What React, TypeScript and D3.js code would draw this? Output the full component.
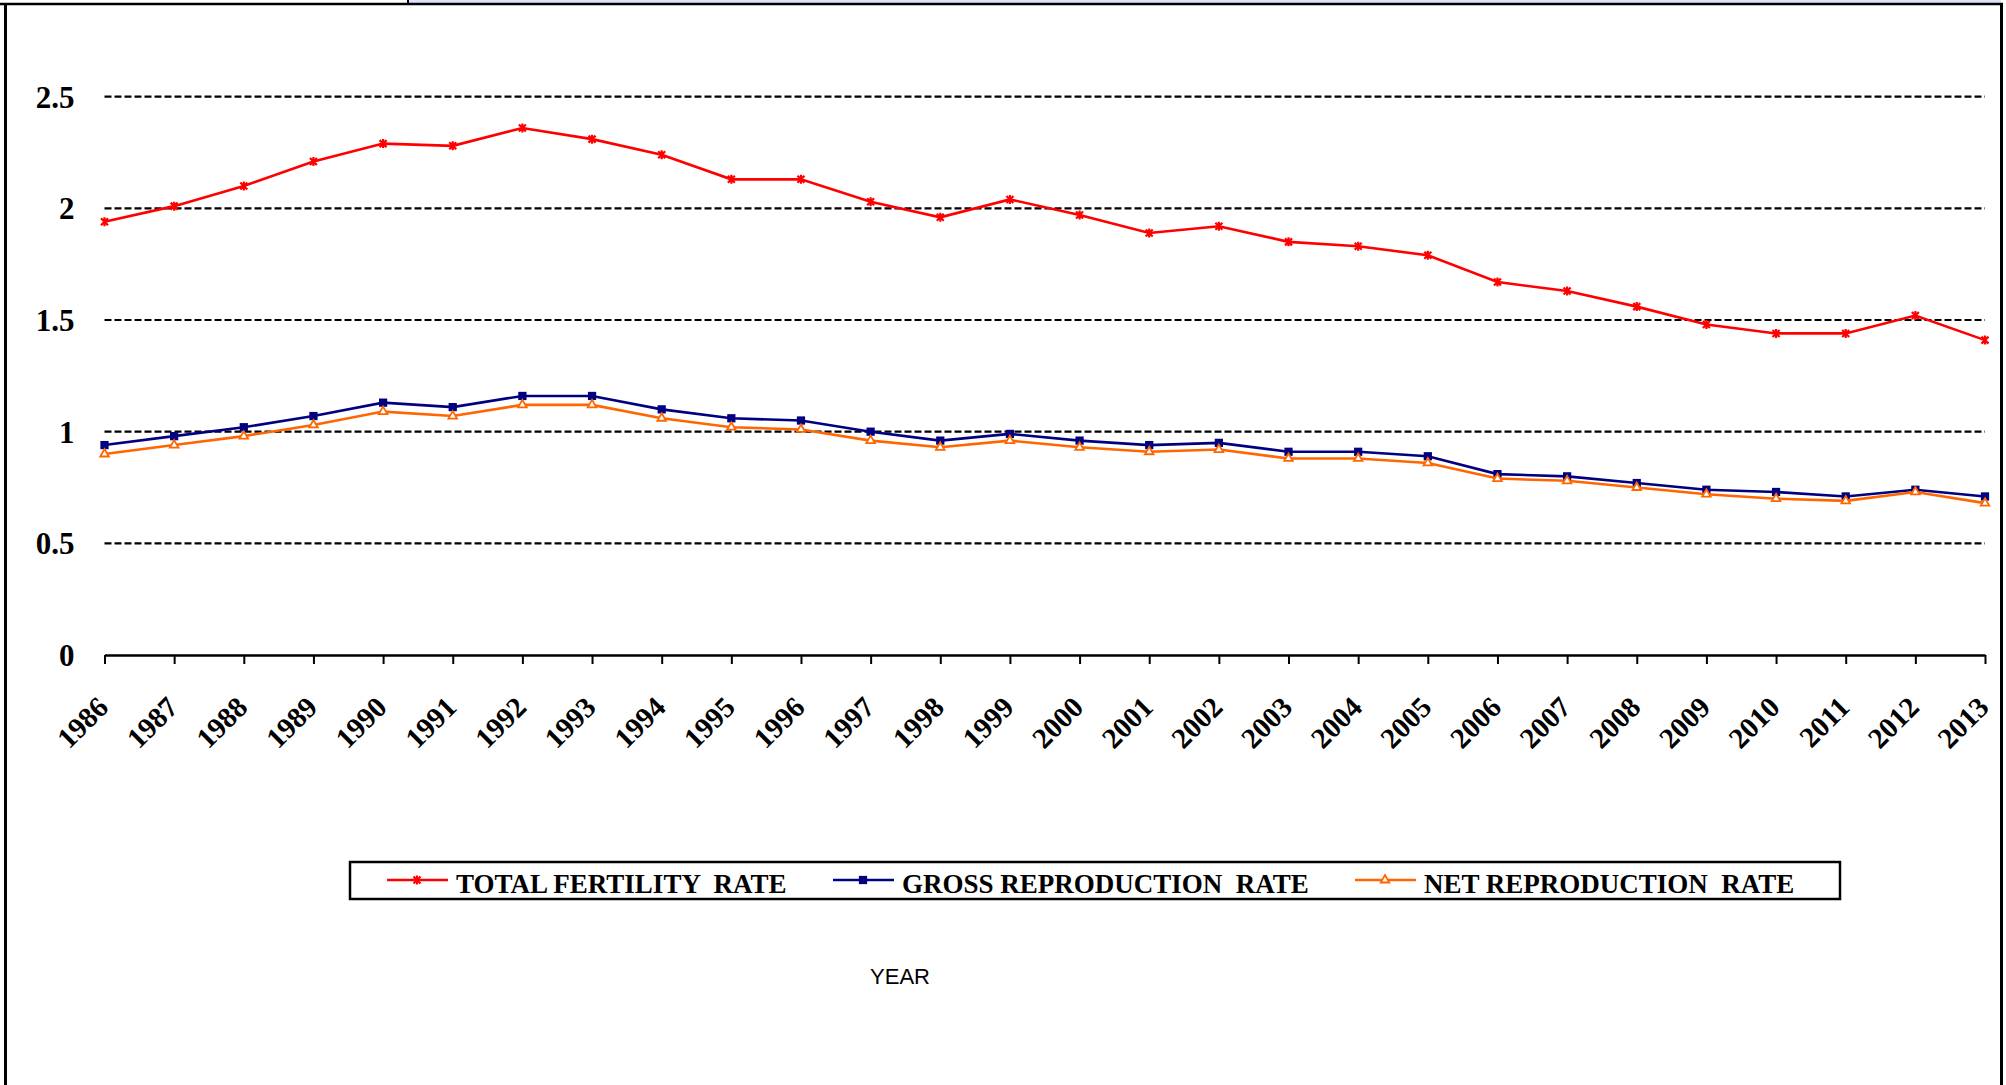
import React, { useEffect, useRef } from 'react';
import * as d3 from 'd3';

const years = [
  '1986', '1987', '1988', '1989', '1990', '1991', '1992', '1993', '1994', '1995',
  '1996', '1997', '1998', '1999', '2000', '2001', '2002', '2003', '2004', '2005',
  '2006', '2007', '2008', '2009', '2010', '2011', '2012', '2013',
];

const totalFertility = [
  1.94, 2.01, 2.1, 2.21, 2.29, 2.28, 2.36, 2.31, 2.24, 2.13,
  2.13, 2.03, 1.96, 2.04, 1.97, 1.89, 1.92, 1.85, 1.83, 1.79,
  1.67, 1.63, 1.56, 1.48, 1.44, 1.44, 1.52, 1.41,
];

const grossReproduction = [
  0.94, 0.98, 1.02, 1.07, 1.13, 1.11, 1.16, 1.16, 1.1, 1.06,
  1.05, 1.0, 0.96, 0.99, 0.96, 0.94, 0.95, 0.91, 0.91, 0.89,
  0.81, 0.8, 0.77, 0.74, 0.73, 0.71, 0.74, 0.71,
];

const netReproduction = [
  0.9, 0.94, 0.98, 1.03, 1.09, 1.07, 1.12, 1.12, 1.06, 1.02,
  1.01, 0.96, 0.93, 0.96, 0.93, 0.91, 0.92, 0.88, 0.88, 0.86,
  0.79, 0.78, 0.75, 0.72, 0.7, 0.69, 0.73, 0.68,
];

const yTicks = [0, 0.5, 1, 1.5, 2, 2.5];
const seriesNames = ['TOTAL FERTILITY  RATE', 'GROSS REPRODUCTION  RATE', 'NET REPRODUCTION  RATE'];
const seriesColors = ['#ff0000', '#000080', '#ff6600'];

const SERIF = '"Liberation Serif", "Times New Roman", serif';

// draws one marker of a series kind into a selection
function addMarker(g: any, kind: number, color: string) {
  if (kind === 0) {
    // star (asterisk) marker
    g.append('path')
      .attr('d', 'M-3.5,-3.5L3.5,3.5M-3.5,3.5L3.5,-3.5M0,-4.5L0,4.5')
      .attr('stroke', color)
      .attr('stroke-width', 2.2)
      .attr('fill', 'none');
  } else if (kind === 1) {
    g.append('path')
      .attr('d', d3.symbol().type(d3.symbolSquare).size(68)())
      .attr('fill', color);
  } else {
    g.append('path')
      .attr('d', d3.symbol().type(d3.symbolTriangle).size(32)())
      .attr('fill', '#fff')
      .attr('stroke', color)
      .attr('stroke-width', 1.8);
  }
}

export default function App() {
  const svgRef = useRef(null);

  useEffect(() => {
    const svg = d3.select(svgRef.current);
    svg.selectAll('*').remove();

    // frame bits (top of a cropped sheet)
    svg.append('rect').attr('x', 409).attr('y', 0).attr('width', 1592).attr('height', 3).attr('fill', '#dfe2fb');
    svg.append('line').attr('x1', 0).attr('x2', 2003).attr('y1', 4).attr('y2', 4).attr('stroke', '#000').attr('stroke-width', 2.5);
    svg.append('line').attr('x1', 408).attr('x2', 408).attr('y1', 0).attr('y2', 4).attr('stroke', '#000').attr('stroke-width', 2);
    svg.append('line').attr('x1', 5.5).attr('x2', 5.5).attr('y1', 3).attr('y2', 1085).attr('stroke', '#000').attr('stroke-width', 3);
    svg.append('line').attr('x1', 2001.5).attr('x2', 2001.5).attr('y1', 3).attr('y2', 1085).attr('stroke', '#000').attr('stroke-width', 3);

    const x = d3.scalePoint().domain(years).range([104.5, 1985]);
    const y = d3.scaleLinear().domain([0, 2.5]).range([655, 96.7]);

    // dashed gridlines
    svg.append('g')
      .selectAll('line')
      .data(yTicks.filter((d) => d > 0))
      .enter()
      .append('line')
      .attr('x1', 104.5)
      .attr('x2', 1985)
      .attr('y1', (d) => y(d))
      .attr('y2', (d) => y(d))
      .attr('stroke', '#000')
      .attr('stroke-width', 2.2)
      .attr('stroke-dasharray', '7,3');

    // y labels
    const yAxis = svg.append('g')
      .attr('transform', 'translate(104.5,0)')
      .call(d3.axisLeft(y).tickValues(yTicks).tickSize(0).tickPadding(30).tickFormat((d) => String(d)));
    yAxis.select('.domain').remove();
    yAxis.selectAll('text')
      .attr('font-family', SERIF)
      .attr('font-weight', 'bold')
      .attr('font-size', 31)
      .attr('fill', '#000')
      .attr('dy', '0.34em');

    // x axis
    const xAxis = svg.append('g')
      .attr('transform', 'translate(0,655)')
      .call(d3.axisBottom(x).tickSize(9).tickSizeOuter(0));
    xAxis.select('.domain').attr('stroke-width', 2.5);
    xAxis.selectAll('.tick line').attr('stroke-width', 2);
    xAxis.selectAll('text')
      .attr('x', 0)
      .attr('y', 0)
      .attr('dy', 0)
      .attr('text-anchor', 'end')
      .attr('transform', 'translate(5,54) rotate(-45)')
      .attr('font-family', SERIF)
      .attr('font-weight', 'bold')
      .attr('font-size', 29)
      .attr('fill', '#000');

    const allSeries = [totalFertility, grossReproduction, netReproduction];
    const line = d3.line<number>()
      .x((d, i) => x(years[i]) as number)
      .y((d) => y(d));

    allSeries.forEach((vals, k) => {
      svg.append('path')
        .datum(vals)
        .attr('d', line)
        .attr('fill', 'none')
        .attr('stroke', seriesColors[k])
        .attr('stroke-width', 2.6);
      const pts = svg.append('g')
        .selectAll('g')
        .data(vals)
        .enter()
        .append('g')
        .attr('transform', (d, i) => `translate(${x(years[i])},${y(d)})`);
      pts.each(function () {
        addMarker(d3.select(this), k, seriesColors[k]);
      });
    });

    // legend
    const legend = svg.append('g');
    legend.append('rect')
      .attr('x', 350).attr('y', 862).attr('width', 1490).attr('height', 37)
      .attr('fill', '#fff').attr('stroke', '#000').attr('stroke-width', 2.5);
    const itemX = [387, 833, 1355];
    seriesNames.forEach((name, k) => {
      const it = legend.append('g').attr('transform', `translate(${itemX[k]},880)`);
      it.append('line').attr('x1', 0).attr('x2', 61).attr('y1', 0).attr('y2', 0)
        .attr('stroke', seriesColors[k]).attr('stroke-width', 2.5);
      addMarker(it.append('g').attr('transform', 'translate(30,0)'), k, seriesColors[k]);
      it.append('text')
        .attr('x', 69)
        .attr('y', 13)
        .attr('font-family', SERIF)
        .attr('font-weight', 'bold')
        .attr('font-size', 27)
        .style('white-space', 'pre')
        .text(name);
    });

    svg.append('text')
      .attr('x', 900)
      .attr('y', 984)
      .attr('text-anchor', 'middle')
      .attr('font-family', '"Liberation Sans", Arial, sans-serif')
      .attr('font-size', 22)
      .text('YEAR');
  }, []);

  return (
    <svg
      ref={svgRef}
      width={2006}
      height={1085}
      style={{ position: 'absolute', left: 0, top: 0, background: '#fff' }}
    />
  );
}
